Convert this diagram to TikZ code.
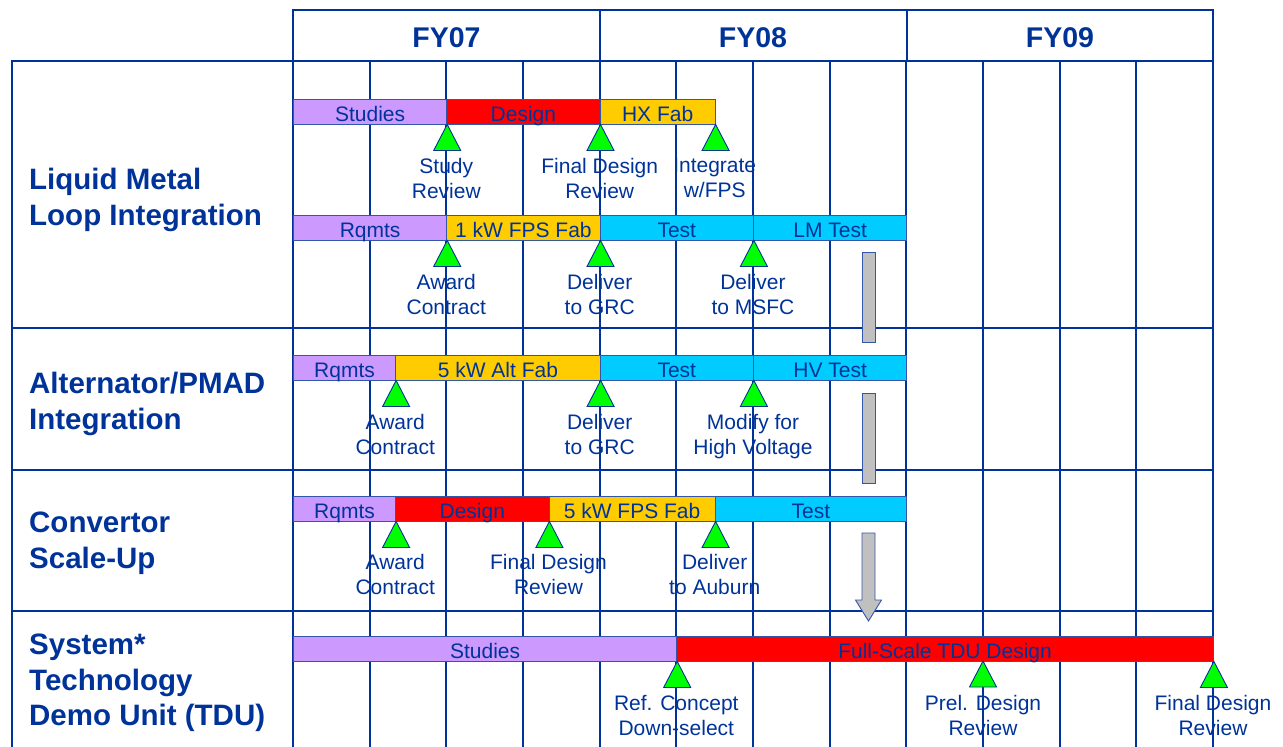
\documentclass[tikz,border=0pt]{standalone}
\usepackage{fontspec}
\setmainfont{Liberation Sans}
\usepackage{tikz}

\definecolor{navy}{RGB}{0,51,153}
\definecolor{barrim}{RGB}{51,85,170}
\definecolor{lilac}{RGB}{204,153,255}
\definecolor{fire}{RGB}{255,0,0}
\definecolor{amber}{RGB}{255,204,0}
\definecolor{sky}{RGB}{0,204,255}
\definecolor{msgreen}{RGB}{0,255,0}
\definecolor{handgray}{RGB}{192,192,192}

\begin{document}
\begin{tikzpicture}[x=1pt,y=-1pt,
    gridline/.style={draw=navy,line width=2.1pt},
    taskbar/.style={draw=barrim,line width=0.9pt,anchor=west,minimum height=25pt,inner sep=0pt,
        text height=19pt,text depth=0pt,text=navy,font=\fontsize{21}{25}\selectfont},
    milestone/.style={draw=navy,line width=0.9pt,fill=msgreen},
    mslabel/.style={anchor=north,align=center,inner sep=0pt,text=navy,font=\fontsize{21}{25}\selectfont},
    rowtitle/.style={anchor=north west,align=left,inner sep=0pt,text=navy,font=\fontsize{29.5}{35.5}\selectfont\bfseries},
    year/.style={inner sep=0pt,text=navy,font=\fontsize{28.5}{34}\selectfont\bfseries},
    handoff/.style={draw=barrim,line width=0.9pt,fill=handgray}]

\useasboundingbox (0,0) rectangle (1283,747);

% milestone labels (grid runs over them)
\node[mslabel] (lmStudyRev) at (446.3,158) {Study\\Review};
\node[mslabel] (lmFinalRev) at (599.7,158) {Final Design\\Review};
\node[mslabel] (lmIntegrate) at (714.7,158) {Integrate\\w/FPS};
\node[mslabel] (lmAward) at (446.3,274) {Award\\Contract};
\node[mslabel] (lmToGRC) at (599.7,274) {Deliver\\to GRC};
\node[mslabel] (lmToMSFC) at (753,274) {Deliver\\to MSFC};
\node[mslabel] (altAward) at (395.2,414) {Award\\Contract};
\node[mslabel] (altToGRC) at (599.7,414) {Deliver\\to GRC};
\node[mslabel] (altModify) at (753,414) {Modify for\\High Voltage};
\node[mslabel] (cnvAward) at (395.2,554.5) {Award\\Contract};
\node[mslabel] (cnvFinalRev) at (548.5,554.5) {Final Design\\Review};
\node[mslabel] (cnvToAuburn) at (714.7,554.5) {Deliver\\to Auburn};
\node[mslabel] (tduRefSel) at (676.3,695) {Ref. Concept\\Down-select};
\node[mslabel] (tduPrelRev) at (983,695) {Prel. Design\\Review};
\node[mslabel] (tduFinalRev) at (1213,695) {Final Design\\Review};

% grid
\draw[gridline] (293,10) rectangle (1213,61);
\draw[gridline] (600,10) -- (600,61);
\draw[gridline] (907,10) -- (907,61);
\draw[gridline] (12,747) -- (12,61) -- (1213,61) -- (1213,747);
\foreach \y in {328,470,611}
  \draw[gridline] (12,\y) -- (1213,\y);
\foreach \i in {0,...,11}
  \draw[gridline] ({293+76.667*\i},61) -- ({293+76.667*\i},747);

% fiscal years
\node[year] (fy07) at (446.5,37.5) {FY07};
\node[year] (fy08) at (753,37.5) {FY08};
\node[year] (fy09) at (1060,37.5) {FY09};

% row titles
\node[rowtitle] (ttlLM) at (29,168) {Liquid Metal\\Loop Integration};
\node[rowtitle] (ttlAlt) at (29,372) {Alternator/PMAD\\Integration};
\node[rowtitle] (ttlCnv) at (29,512) {Convertor\\Scale-Up};
\node[rowtitle] (ttlTdu) at (29,634) {System*\\Technology\\Demo Unit (TDU)};

% liquid metal loop
\node[taskbar,fill=lilac,minimum width=153.3pt] (lmStudies) at (293,111.5) {Studies};
\node[taskbar,fill=fire,minimum width=153.3pt] (lmDesign) at (446.3,111.5) {Design};
\node[taskbar,fill=amber,minimum width=115pt] (lmHX) at (599.7,111.5) {HX Fab};
\node[taskbar,fill=lilac,minimum width=153.3pt] (lmRqmts) at (293,227.5) {Rqmts};
\node[taskbar,fill=amber,minimum width=153.3pt] (lmFab) at (446.3,227.5) {1 kW FPS Fab};
\node[taskbar,fill=sky,minimum width=153.3pt] (lmTest) at (599.7,227.5) {Test};
\node[taskbar,fill=sky,minimum width=153.3pt] (lmLM) at (753,227.5) {LM Test};

\draw[milestone] (lmStudies.south east) -- ++(13.5,26) -- ++(-27,0) -- cycle;
\draw[milestone] (lmDesign.south east) -- ++(13.5,26) -- ++(-27,0) -- cycle;
\draw[milestone] (lmHX.south east) -- ++(13.5,26) -- ++(-27,0) -- cycle;
\draw[milestone] (lmRqmts.south east) -- ++(13.5,26) -- ++(-27,0) -- cycle;
\draw[milestone] (lmFab.south east) -- ++(13.5,26) -- ++(-27,0) -- cycle;
\draw[milestone] (lmTest.south east) -- ++(13.5,26) -- ++(-27,0) -- cycle;

% alternator / pmad
\node[taskbar,fill=lilac,minimum width=102.2pt] (altRqmts) at (293,367.5) {Rqmts};
\node[taskbar,fill=amber,minimum width=204.5pt] (altFab) at (395.2,367.5) {5 kW Alt Fab};
\node[taskbar,fill=sky,minimum width=153.3pt] (altTest) at (599.7,367.5) {Test};
\node[taskbar,fill=sky,minimum width=153.3pt] (altHV) at (753,367.5) {HV Test};

\draw[milestone] (altRqmts.south east) -- ++(13.5,26) -- ++(-27,0) -- cycle;
\draw[milestone] (altFab.south east) -- ++(13.5,26) -- ++(-27,0) -- cycle;
\draw[milestone] (altTest.south east) -- ++(13.5,26) -- ++(-27,0) -- cycle;

% convertor
\node[taskbar,fill=lilac,minimum width=102.2pt] (cnvRqmts) at (293,508.5) {Rqmts};
\node[taskbar,fill=fire,minimum width=153.3pt] (cnvDesign) at (395.2,508.5) {Design};
\node[taskbar,fill=amber,minimum width=166.2pt] (cnvFab) at (548.5,508.5) {5 kW FPS Fab};
\node[taskbar,fill=sky,minimum width=191.6pt] (cnvTest) at (714.7,508.5) {Test};

\draw[milestone] (cnvRqmts.south east) -- ++(13.5,26) -- ++(-27,0) -- cycle;
\draw[milestone] (cnvDesign.south east) -- ++(13.5,26) -- ++(-27,0) -- cycle;
\draw[milestone] (cnvFab.south east) -- ++(13.5,26) -- ++(-27,0) -- cycle;

% system tdu
\node[taskbar,fill=lilac,minimum width=383.3pt] (tduStudies) at (293,648.5) {Studies};
\node[taskbar,fill=fire,minimum width=536.7pt] (tduDesign) at (676.3,648.5) {Full-Scale TDU Design};

\draw[milestone] (tduStudies.south east) -- ++(13.5,26) -- ++(-27,0) -- cycle;
\draw[milestone] (983,661) -- ++(13.5,26) -- ++(-27,0) -- cycle;
\draw[milestone] (tduDesign.south east) -- ++(13.5,26) -- ++(-27,0) -- cycle;

% hand-offs to the tdu
\draw[handoff] (862,252) rectangle (875,342);
\draw[handoff] (862,393) rectangle (875,483);
\draw[handoff] (862,533) -- (875,533) -- (875,600) -- (881.5,600) -- (868.5,621)
  -- (855.5,600) -- (862,600) -- cycle;
\end{tikzpicture}
\end{document}
